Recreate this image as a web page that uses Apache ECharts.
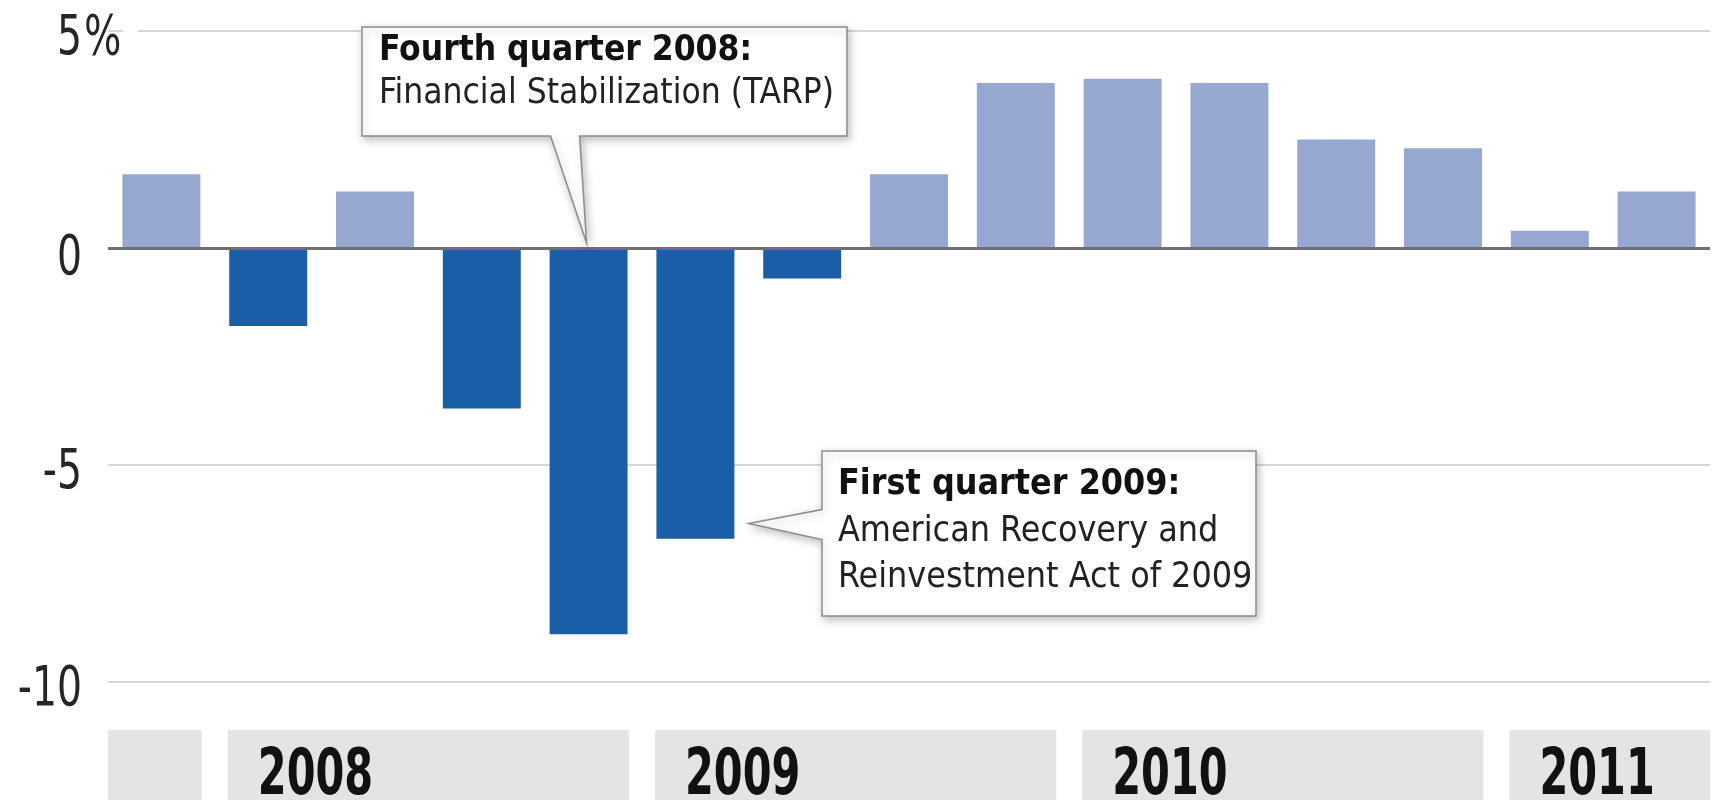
<!DOCTYPE html>
<html>
<head>
<meta charset="utf-8">
<script src="https://cdn.jsdelivr.net/npm/echarts@6/dist/echarts.min.js"></script>
<style>
html,body{margin:0;padding:0;background:#fff;}
#chart{width:1719px;height:800px;}
</style>
</head>
<body>
<div id="chart"></div>
<script>
// ---- data ----
const quarters = ["Q4 2007","Q1 2008","Q2 2008","Q3 2008","Q4 2008","Q1 2009","Q2 2009","Q3 2009","Q4 2009","Q1 2010","Q2 2010","Q3 2010","Q4 2010","Q1 2011","Q2 2011"];
const growth = [1.7, -1.8, 1.3, -3.7, -8.9, -6.7, -0.7, 1.7, 3.8, 3.9, 3.8, 2.5, 2.3, 0.4, 1.3];
const yearLabels = ["", "2008", "2009", "2010", "2011"];
const yearStart = [0, 1, 5, 9, 13];
const yearEnd = [0, 4, 8, 12, 14];
const yTicks = [-10, -5, 0, 5];
const yTickText = ["-10", "-5", "0", "5"];
const yTickSuffix = ["", "", "", "%"];
const note1Title = "Fourth quarter 2008:";
const note1Lines = ["Financial Stabilization (TARP)"];
const note2Title = "First quarter 2009:";
const note2Lines = ["American Recovery and", "Reinvestment Act of 2009"];

const COND = "'DejaVu Sans Condensed', 'DejaVu Sans', sans-serif";
const LIGHT = "#97a8d0";
const DARK = "#1a5ea8";

const chart = echarts.init(document.getElementById('chart'), null, {renderer: 'canvas'});

chart.setOption({
  animation: false,
  backgroundColor: '#ffffff',
  grid: [
    {left: 108, right: 9, top: 31, bottom: 118},
    {left: 108, right: 9, top: 730, bottom: 0}
  ],
  xAxis: [
    {type: 'category', gridIndex: 0, data: quarters, boundaryGap: true,
     axisLine: {show: false}, axisTick: {show: false}, axisLabel: {show: false}, splitLine: {show: false}},
    {type: 'category', gridIndex: 1, data: quarters, boundaryGap: true, show: false}
  ],
  yAxis: [
    {type: 'value', gridIndex: 0, min: -10, max: 5, interval: 5,
     axisLine: {show: false}, axisTick: {show: false},
     splitLine: {show: true, lineStyle: {color: '#c9c9c9', width: 1.5}},
     axisLabel: {show: false}},
    {type: 'value', gridIndex: 1, min: 0, max: 1, show: false}
  ],
  series: [
    {
      type: 'bar', xAxisIndex: 0, yAxisIndex: 0,
      data: growth,
      barWidth: '73%',
      itemStyle: {color: p => (p.value >= 0 ? LIGHT : DARK)},
      markLine: {
        silent: true, symbol: 'none', z: 10,
        label: {show: false},
        lineStyle: {color: '#6f6f6f', width: 3, type: 'solid'},
        data: [{yAxis: 0}]
      }
    },
    {
      // y tick labels, placed with the value axis scale (condensed look via scaleX)
      type: 'custom', xAxisIndex: 0, yAxisIndex: 0, silent: true, z: 5,
      data: yTicks.map(v => [0, v]),
      renderItem: function (params, api) {
        const cs = params.coordSys;
        const v = api.value(1);
        const y = api.coord([0, v])[1] + (v === 0 ? 11 : 8);
        const x = cs.x - 26;
        const i = params.dataIndex;
        const kids = [
          {type: 'text', x: x, y: y, scaleX: 0.78,
           style: {text: yTickText[i], fontFamily: COND, fontSize: 56, fill: '#262626',
                   align: 'right', verticalAlign: 'middle'}}
        ];
        if (yTickSuffix[i]) {
          kids.push({type: 'text', x: x + 2, y: y, scaleX: 0.78,
            style: {text: yTickSuffix[i], fontFamily: COND, fontSize: 56, fill: '#262626',
                    align: 'left', verticalAlign: 'middle'}});
        }
        return {type: 'group', children: kids};
      }
    },
    {
      type: 'custom', xAxisIndex: 1, yAxisIndex: 1, silent: true,
      data: yearStart.map((s, i) => [s, yearEnd[i]]),
      renderItem: function (params, api) {
        const cs = params.coordSys;
        const bw = api.size([1, 0])[0];
        const s = api.value(0), e = api.value(1);
        let x0 = api.coord([s, 0])[0] - bw / 2 + 13;
        let x1 = api.coord([e, 0])[0] + bw / 2 - 13;
        if (s === 0) x0 = cs.x;
        if (e === quarters.length - 1) x1 = cs.x + cs.width;
        return {
          type: 'group',
          children: [
            {type: 'rect', shape: {x: x0, y: cs.y, width: x1 - x0, height: cs.height},
             style: {fill: '#e4e4e4'}},
            {type: 'text', x: x0 + 30, y: cs.y + cs.height / 2 + 12, scaleX: 0.72,
             style: {text: yearLabels[params.dataIndex], fontFamily: COND, fontWeight: 'bold',
                     fontSize: 64, fill: '#111', verticalAlign: 'middle', align: 'left'}}
          ]
        };
      }
    }
  ]
});

// ---- annotations (callouts anchored to bars via the axis scales) ----
const toPx = v => chart.convertToPixel({xAxisIndex: 0, yAxisIndex: 0}, v);
const tip1 = toPx([4, 0]);
const p6 = toPx([5, -6.35]);
const band = toPx([1, 0])[0] - toPx([0, 0])[0];
const tip2 = [p6[0] + band * 0.5, p6[1]];
const top5 = toPx([0, 5]);

const b1 = {l: 362, r: 847, t: 27, b: 136};
const b2 = {l: 822, r: 1256, t: 451, b: 616};

const shapeStyle = {fill: '#ffffff', stroke: '#8c8c8c', lineWidth: 1.5,
  shadowBlur: 8, shadowColor: 'rgba(0,0,0,0.25)', shadowOffsetX: 2, shadowOffsetY: 3};

function txt(x, y, text, bold, size) {
  return {type: 'text', x: x, y: y, z: 101,
    style: {text: text, fontFamily: COND, fontWeight: bold ? 'bold' : 'normal', fontSize: size,
            fill: bold ? '#111' : '#222', verticalAlign: 'middle', align: 'left'}};
}

const graphics = [
  // the top gridline starts after the "%" sign
  {type: 'rect', z: 1, shape: {x: 123, y: top5[1] - 4, width: 15, height: 8}, style: {fill: '#ffffff'}},
  {type: 'polygon', z: 100,
   shape: {points: [[b1.l, b1.t], [b1.r, b1.t], [b1.r, b1.b], [tip1[0] - 9, b1.b], [tip1[0] - 2, tip1[1] - 5], [tip1[0] - 38, b1.b], [b1.l, b1.b]]},
   style: shapeStyle},
  txt(b1.l + 17, b1.t + 24, note1Title, true, 35),
  txt(b1.l + 17, b1.t + 67, note1Lines[0], false, 35),
  {type: 'polygon', z: 100,
   shape: {points: [[b2.l, b2.t], [b2.r, b2.t], [b2.r, b2.b], [b2.l, b2.b], [b2.l, tip2[1] + 16], [tip2[0], tip2[1]], [b2.l, tip2[1] - 14]]},
   style: shapeStyle},
  txt(b2.l + 16, b2.t + 34, note2Title, true, 35.5),
  txt(b2.l + 16, b2.t + 81, note2Lines[0], false, 35.5),
  txt(b2.l + 16, b2.t + 127, note2Lines[1], false, 35.5)
];

chart.setOption({graphic: graphics});
</script>
</body>
</html>
